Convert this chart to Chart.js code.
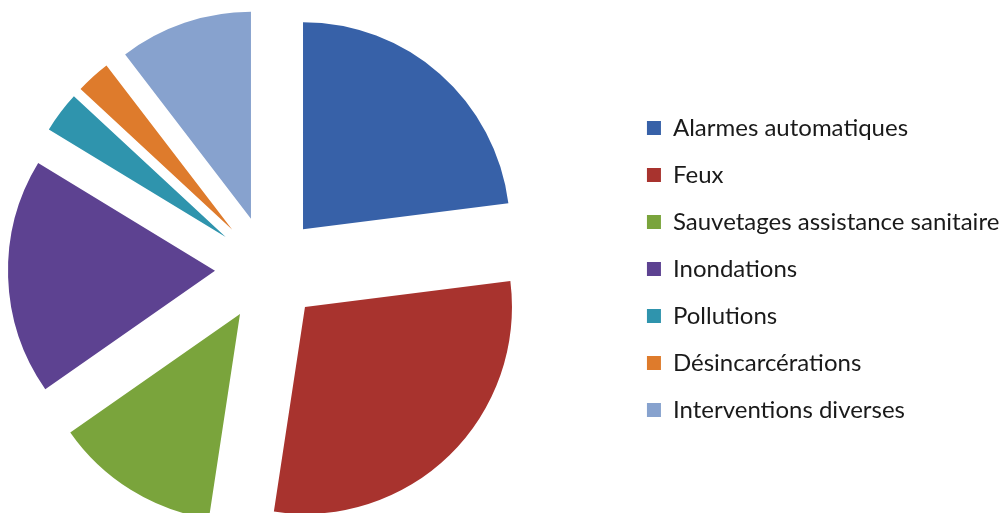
<!DOCTYPE html>
<html lang="fr">
<head>
<meta charset="utf-8">
<title>Répartition des interventions</title>
<script src="https://cdn.jsdelivr.net/npm/chart.js@4.4.0/dist/chart.umd.min.js"></script>
<style>
  html, body { margin: 0; padding: 0; background: #fff; overflow: hidden; }
  #page { position: relative; width: 1000px; height: 513px; overflow: hidden; }
  #wrap { position: absolute; top: 0; height: 513px; }
</style>
</head>
<body>
<div id="page"><div id="wrap"><canvas id="pie"></canvas></div></div>
<script>
// --- data (share of interventions, %) ---
const categories = [
  "Alarmes automatiques",
  "Feux",
  "Sauvetages assistance sanitaire",
  "Inondations",
  "Pollutions",
  "Désincarcérations",
  "Interventions diverses",
];
const shares = [23.0, 29.4, 12.9, 18.4, 3.2, 2.7, 10.4];
const colors = ["#3761a8", "#a8332e", "#7aa43c", "#5d4291", "#2f94ad", "#de7b2c", "#87a2ce"];

/* ============== LAYOUT ============== */
const FONT = "Lato, 'Liberation Sans', sans-serif";
const FONT_SIZE = 24;
const BOX = 14;
const ROW_GAP = 23;      // legend padding, gives ~47px per row
const RADIUS = 207;
const EXPLODE = 53;      // every slice pulled out by this much
const PIE_CX = 268;
const LEGEND_BOX_X = 647;
const W = 1000;

// legend width depends on the text, so measure it to place the legend
const mctx = document.createElement("canvas").getContext("2d");
mctx.font = `${FONT_SIZE}px ${FONT}`;
const textW = Math.max(...categories.map((c) => mctx.measureText(c).width));
const legendLeft = LEGEND_BOX_X - ROW_GAP;
const legendWidth = ROW_GAP + BOX + FONT_SIZE / 2 + textW + 10;

// the pie sits left of the middle of its area, so the canvas starts off-page
// (and may run past the right edge where the legend's slack is)
const shift = Math.max(legendLeft - 2 * PIE_CX, 0);
const rightEdge = Math.max(W, legendLeft + legendWidth);
const wrap = document.getElementById("wrap");
wrap.style.left = -shift + "px";
wrap.style.width = shift + rightEdge + "px";

// chart.js v4 offset also grows small slices, so explode them by hand
const explode = {
  id: "explode",
  afterDatasetsUpdate(chart) {
    chart.getDatasetMeta(0).data.forEach((arc) => {
      const mid = (arc.startAngle + arc.endAngle) / 2;
      arc.x += Math.cos(mid) * EXPLODE;
      arc.y += Math.sin(mid) * EXPLODE;
    });
  },
};

new Chart(document.getElementById("pie"), {
  type: "pie",
  data: {
    labels: categories,
    datasets: [
      {
        data: shares,
        backgroundColor: colors,
        borderWidth: 0,
        radius: RADIUS,
      },
    ],
  },
  options: {
    responsive: true,
    maintainAspectRatio: false,
    animation: false,
    events: [],
    layout: {
      padding: {
        top: 25,
        bottom: 0,
        left: 0,
        right: rightEdge - legendLeft - legendWidth,
      },
    },
    plugins: {
      legend: {
        position: "right",
        align: "center",
        labels: {
          boxWidth: BOX,
          boxHeight: BOX,
          padding: ROW_GAP,
          color: "#1a1a1a",
          font: { family: FONT, size: FONT_SIZE },
        },
      },
      tooltip: { enabled: false },
    },
  },
  plugins: [explode],
});
</script>
</body>
</html>
